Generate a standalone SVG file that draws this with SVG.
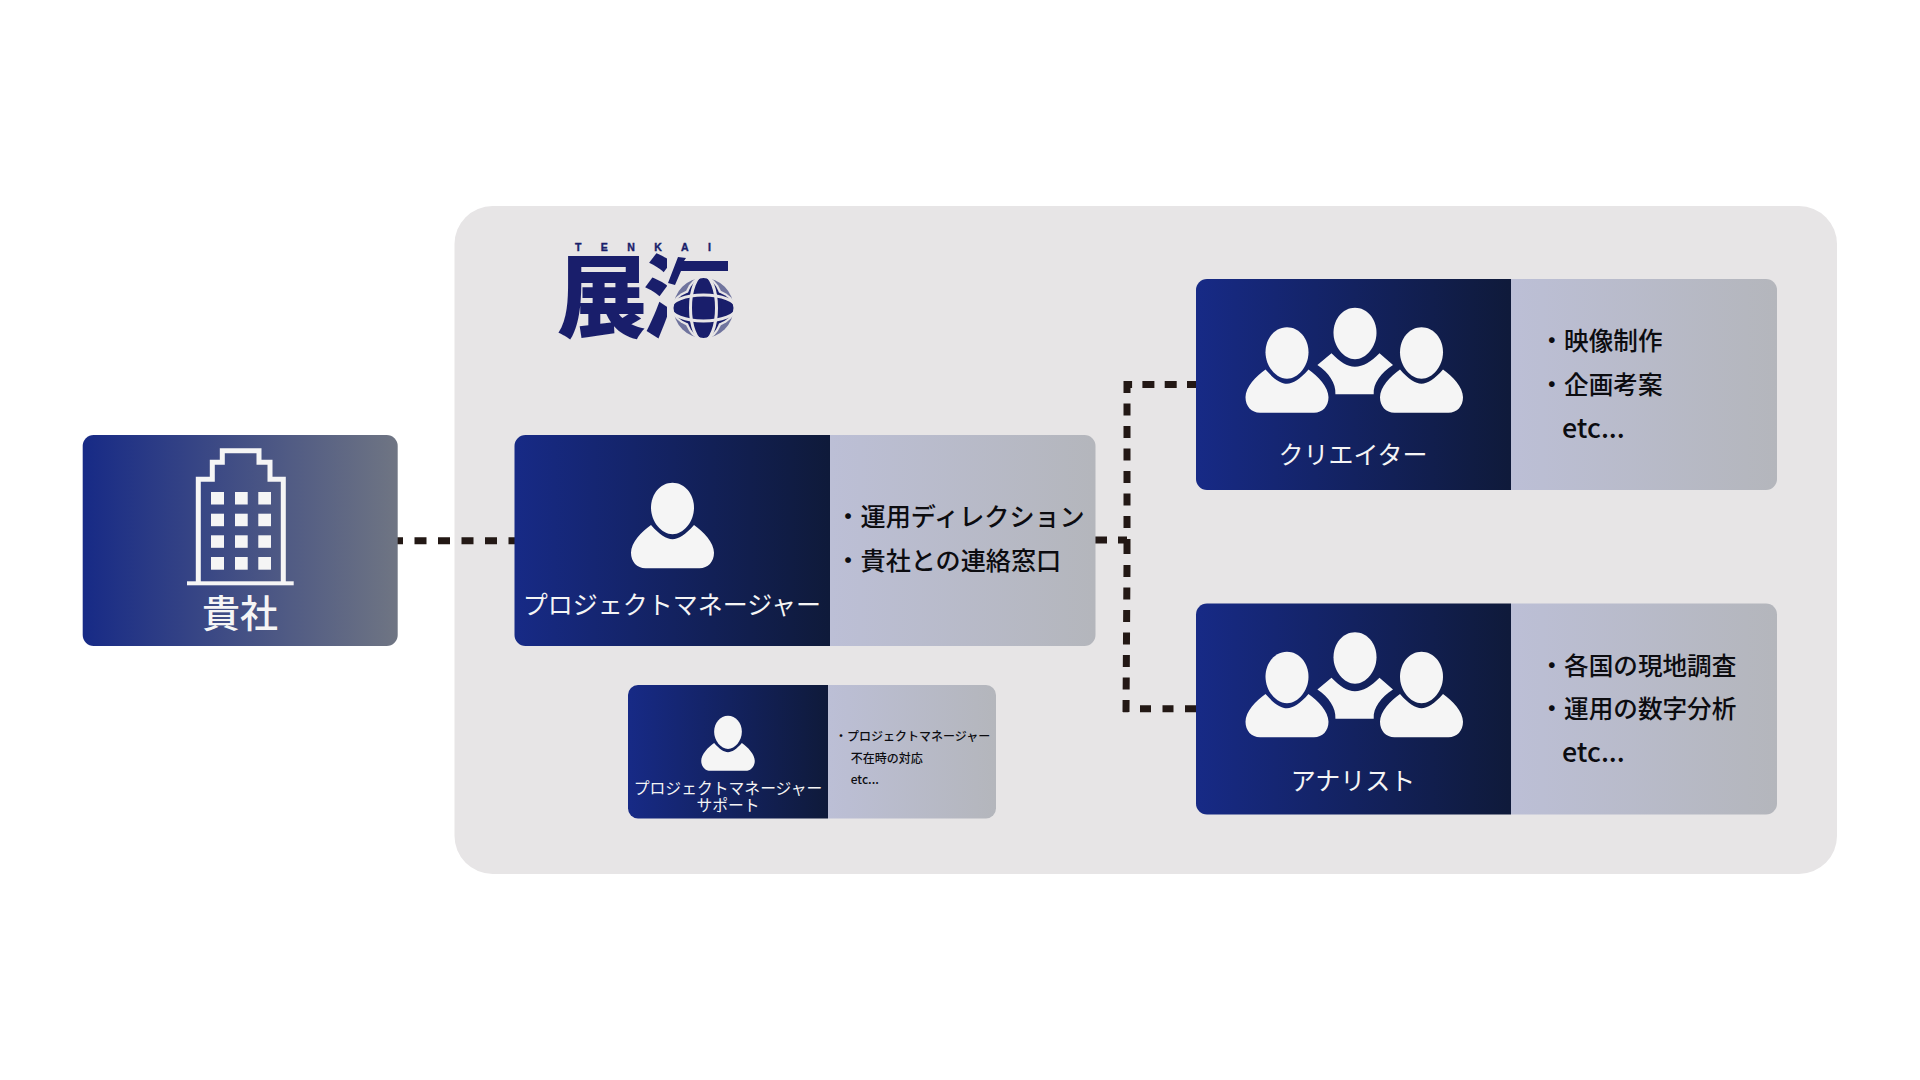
<svg xmlns="http://www.w3.org/2000/svg" xmlns:xlink="http://www.w3.org/1999/xlink" width="1920" height="1080" viewBox="0 0 1920 1080">
<style>
text{font-family:"Noto Sans CJK JP","Noto Sans",sans-serif}
.lbl{fill:#f5f5f5;font-size:25px;font-weight:400;text-anchor:middle}
.sub{fill:#f5f5f5;font-size:15.8px;font-weight:400;text-anchor:middle}
.item{fill:#0c0c10;font-size:24.600px;font-weight:500}
.itemw{fill:#0c0c10;font-size:25.100px;font-weight:500}
.etc{fill:#0c0c10;font-size:26.800px;font-weight:500}
.small{fill:#0c0c10;font-size:12px;font-weight:500}
.ic{fill:#f5f5f5}
.dash{fill:none;stroke:#231815;stroke-width:7}
.logo{fill:#191e6b}
.bg{fill:#e7e5e6}
</style>
<defs>
<linearGradient id="gL"><stop offset="0" stop-color="#172a86"/><stop offset="1" stop-color="#0f1a3a"/></linearGradient>
<linearGradient id="gR"><stop offset="0" stop-color="#bcbfd6"/><stop offset="1" stop-color="#b4b6bc"/></linearGradient>
<linearGradient id="gC"><stop offset="0" stop-color="#172a86"/><stop offset="1" stop-color="#6f7583"/></linearGradient>
<clipPath id="water"><rect x="640" y="250" width="27" height="95"/></clipPath>
<symbol id="person" overflow="visible" viewBox="0 0 1 1" width="1" height="1">
<path class="ic" d="M0,0C12,0 21.500,11 21.500,25C21.500,39 11,51.500 0,51.500C-11,51.500 -21.500,39 -21.500,25C-21.500,11 -12,0 0,0Z"/>
<path class="ic" d="M-21.500,42.300C-13,52 -6,56.500 0,56.500C6,56.500 13,52 21.500,42.300C31,49 41.500,60 41.500,70C41.500,79 35.500,85.500 27,85.500L-27,85.500C-35.500,85.500 -41.500,79 -41.500,70C-41.500,60 -31,49 -21.500,42.300Z"/>
</symbol>
<g id="trio">
<use xlink:href="#person" href="#person" x="1287" y="327.300"/>
<use xlink:href="#person" href="#person" x="1421.500" y="327.300"/>
<path class="ic" d="M1355,307.700C1367,307.700 1376.500,318.700 1376.500,332.700C1376.500,346.700 1366,359.200 1355,359.200C1344,359.200 1333.500,346.700 1333.500,332.700C1333.500,318.700 1343,307.700 1355,307.700Z"/>
<path class="ic" d="M1331.500,353.300C1340,362 1347,366.700 1355,366.700C1363,366.700 1371,362 1379.500,353.300L1393,365C1381,373 1373,383 1373.700,394.300L1335.400,394.300C1336,383 1329,373 1317.400,365Z"/>
</g>
</defs>
<rect width="1920" height="1080" fill="#fff"/>
<rect id="panel" x="454.500" y="206" width="1382.500" height="668" rx="38" class="bg"/>

<g id="connectors">
<line class="dash" x1="397" y1="540.700" x2="515" y2="540.700" stroke-dasharray="12 11.500" stroke-dashoffset="6"/>
<line class="dash" x1="1095" y1="540" x2="1127" y2="540" stroke-dasharray="12 11"/>
<line class="dash" x1="1196" y1="384.500" x2="1124" y2="384.500" stroke-dasharray="12 10.300" stroke-dashoffset="3"/>
<line class="dash" x1="1127" y1="381" x2="1127" y2="528" stroke-dasharray="12 10.500"/>
<line class="dash" x1="1127" y1="539" x2="1127" y2="554"/>
<line class="dash" x1="1127" y1="565" x2="1126" y2="712" stroke-dasharray="12 10.500"/>
<line class="dash" x1="1196" y1="708.700" x2="1123" y2="708.700" stroke-dasharray="11 11.500"/>
</g>

<g id="logo">
<text x="575" y="250.500" style="font-family:'Liberation Sans',sans-serif;font-size:10.500px;font-weight:700;stroke:#191e6b;stroke-width:0.4" class="logo" textLength="136" lengthAdjust="spacing">TENKAI</text>
<text x="557" y="330" class="logo" style="font-size:90px;font-weight:900">展</text>
<text x="643" y="330" class="logo" clip-path="url(#water)" style="font-size:90px;font-weight:900">海</text>
<polygon class="logo" points="668,283 678,257 686,258 684,261 728,261 728,271 681,271 675,285"/>
<g id="globe">
<circle cx="703.500" cy="308" r="30" fill="#70749e"/>
<ellipse cx="703.500" cy="308" rx="32" ry="20.500" class="bg"/>
<ellipse cx="703.500" cy="308" rx="20.500" ry="32" class="bg"/>
<ellipse cx="703.500" cy="308" rx="30" ry="18" class="logo"/>
<ellipse cx="703.500" cy="308" rx="18" ry="30" class="logo"/>
<ellipse cx="703.500" cy="308" rx="13" ry="33" fill="none" stroke="#e7e5e6" stroke-width="3"/>
<ellipse cx="703.500" cy="308" rx="33" ry="13" fill="none" stroke="#e7e5e6" stroke-width="3"/>
</g>
</g>

<g id="client">
<rect x="82.700" y="435" width="315" height="211" rx="11" fill="url(#gC)"/>
<path d="M198.300,583.300V479.300H212.300V462.300H222.300V450.700H259V462.300H270V479.300H283.300V583.300" fill="none" stroke="#f5f5f5" stroke-width="5"/>
<rect x="187" y="581.300" width="106.700" height="4" class="ic"/>
<g class="ic">
<rect x="211" y="492" width="13" height="12.500"/><rect x="235" y="492" width="12.700" height="12.500"/><rect x="258.300" y="492" width="12.700" height="12.500"/>
<rect x="211" y="513.700" width="13" height="12.500"/><rect x="235" y="513.700" width="12.700" height="12.500"/><rect x="258.300" y="513.700" width="12.700" height="12.500"/>
<rect x="211" y="535.300" width="13" height="12.500"/><rect x="235" y="535.300" width="12.700" height="12.500"/><rect x="258.300" y="535.300" width="12.700" height="12.500"/>
<rect x="211" y="557" width="13" height="12.700"/><rect x="235" y="557" width="12.700" height="12.700"/><rect x="258.300" y="557" width="12.700" height="12.700"/>
</g>
<text x="240" y="627" text-anchor="middle" style="font-size:38px;font-weight:500;fill:#f5f5f5">貴社</text>
</g>

<g id="pm">
<path d="M525.500,435H830V646H525.500A11,11 0 0 1 514.500,635V446A11,11 0 0 1 525.500,435Z" fill="url(#gL)"/>
<path d="M830,435H1084.500A11,11 0 0 1 1095.500,446V635A11,11 0 0 1 1084.500,646H830Z" fill="url(#gR)"/>
<use xlink:href="#person" href="#person" x="672.500" y="482.700"/>
<text x="672" y="614" class="lbl">プロジェクトマネージャー</text>
<text x="835.500" y="526" class="itemw">・運用ディレクション</text>
<text x="835.500" y="570" class="itemw">・貴社との連絡窓口</text>
</g>

<g id="support">
<path d="M638,685H828V818.500H638A10,10 0 0 1 628,808.500V695A10,10 0 0 1 638,685Z" fill="url(#gL)"/>
<path d="M828,685H986A10,10 0 0 1 996,695V808.500A10,10 0 0 1 986,818.500H828Z" fill="url(#gR)"/>
<use xlink:href="#person" href="#person" transform="translate(728 715.700) scale(0.645)"/>
<text x="728" y="794" class="sub">プロジェクトマネージャー</text>
<text x="728" y="810.500" class="sub">サポート</text>
<text x="835" y="741" class="small">・プロジェクトマネージャー</text>
<text x="850.700" y="762.500" class="small">不在時の対応</text>
<text x="850.700" y="784" class="small">etc...</text>
</g>

<g id="creator">
<path d="M1207,279H1511V490H1207A11,11 0 0 1 1196,479V290A11,11 0 0 1 1207,279Z" fill="url(#gL)"/>
<path d="M1511,279H1766A11,11 0 0 1 1777,290V479A11,11 0 0 1 1766,490H1511Z" fill="url(#gR)"/>
<use xlink:href="#trio" href="#trio"/>
<text x="1353" y="464" class="lbl">クリエイター</text>
<text x="1539.500" y="349.500" class="item">・映像制作</text>
<text x="1539.500" y="393.500" class="item">・企画考案</text>
<text x="1562" y="438" class="etc">etc...</text>
</g>

<g id="analyst">
<path d="M1207,603.500H1511V814.500H1207A11,11 0 0 1 1196,803.500V614.500A11,11 0 0 1 1207,603.500Z" fill="url(#gL)"/>
<path d="M1511,603.500H1766A11,11 0 0 1 1777,614.500V803.500A11,11 0 0 1 1766,814.500H1511Z" fill="url(#gR)"/>
<use xlink:href="#trio" href="#trio" y="324.500"/>
<text x="1353" y="789.500" class="lbl">アナリスト</text>
<text x="1539.500" y="674.500" class="item">・各国の現地調査</text>
<text x="1539.500" y="718" class="item">・運用の数字分析</text>
<text x="1562" y="762" class="etc">etc...</text>
</g>
</svg>
